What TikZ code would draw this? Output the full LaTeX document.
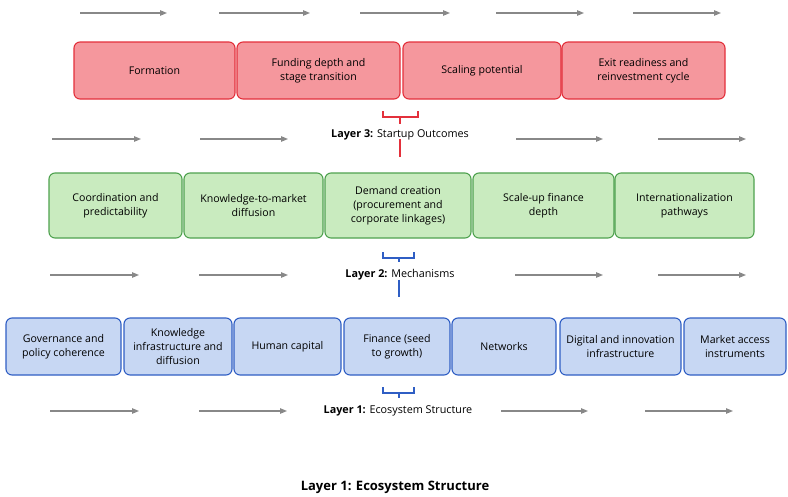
\documentclass[tikz,border=0pt]{standalone}
\usepackage{fontspec}
\setmainfont{Open Sans}
\usetikzlibrary{arrows.meta}

\definecolor{outfill}{HTML}{F5979D}
\definecolor{outline}{HTML}{E3303B}
\definecolor{mechfill}{HTML}{C9EBBF}
\definecolor{mechline}{HTML}{4FA24F}
\definecolor{ecofill}{HTML}{C7D7F3}
\definecolor{ecoline}{HTML}{2F5EC4}
\definecolor{flowgray}{HTML}{888888}

\begin{document}
\begin{tikzpicture}[x=1pt, y=-1pt,
  box/.style={draw, rounded corners=6pt, line width=1.1pt, align=center,
    inner sep=2pt, font=\fontsize{10.6}{14}\selectfont},
  outcome/.style={box, fill=outfill, draw=outline, minimum height=57pt},
  mech/.style={box, fill=mechfill, draw=mechline, minimum height=65pt},
  eco/.style={box, fill=ecofill, draw=ecoline, minimum height=57pt},
  layer/.style={font=\fontsize{10.8}{13}\selectfont, inner sep=1pt},
  flow/.style={-{Triangle[length=7pt, width=5.5pt]}, draw=flowgray, fill=flowgray, line width=1.1pt},
  brace/.style={line width=1.6pt}
]
\useasboundingbox (0,0) rectangle (788,496);

% background flow arrows
\foreach \a/\b in {80/167, 219/310, 360/450, 496/584, 633/721}
  \draw[flow] (\a,13) -- (\b,13);
\foreach \a/\b in {52/141, 200/288, 516/603, 658/746}
  \draw[flow] (\a,139) -- (\b,139);
\foreach \a/\b in {50/139, 199/288, 515/603, 658/746}
  \draw[flow] (\a,275) -- (\b,275);
\foreach \a/\b in {50/139, 199/287, 501/588, 645/733}
  \draw[flow] (\a,411) -- (\b,411);

% layer 3
\node[outcome, minimum width=161pt] (formation) at (154.5,70.5) {Formation};
\node[outcome, minimum width=163pt] (funding) at (318.5,70.5) {Funding depth and\\stage transition};
\node[outcome, minimum width=158pt] (scaling) at (482,70.5) {Scaling potential};
\node[outcome, minimum width=163pt] (exit) at (643.5,70.5) {Exit readiness and\\reinvestment cycle};

\node[layer] (l3) at (400,135) {\textbf{Layer 3:} Startup Outcomes};
\draw[brace, outline] (383,111) -- (383,117) -- (418,117) -- (418,111);
\draw[brace, outline] (400,117) -- (400,124);
\coordinate (l3end) at (400,157);
\draw[brace, outline] (l3.south) ++(0,-2) -- (l3end);

% layer 2
\node[mech, minimum width=133pt] (coord) at (115.5,205.5) {Coordination and\\predictability};
\node[mech, minimum width=139pt] (know) at (253.5,205.5) {Knowledge-to-market\\diffusion};
\node[mech, minimum width=146pt] (demand) at (398,205.5) {Demand creation\\(procurement and\\corporate linkages)};
\node[mech, minimum width=141pt] (scaleup) at (543.5,205.5) {Scale-up finance\\depth};
\node[mech, minimum width=139pt] (intl) at (684.5,205.5) {Internationalization\\pathways};

\node[layer] (l2) at (400,275) {\textbf{Layer 2:} Mechanisms};
\draw[brace, ecoline] (383,252) -- (383,258) -- (414,258) -- (414,252);
\draw[brace, ecoline] (399,258) -- (399,262);
\coordinate (l2end) at (399,297);
\draw[brace, ecoline] (l2.south) ++(-1,-2) -- (l2end);

% layer 1
\node[eco, minimum width=115pt] (gov) at (63.5,346.5) {Governance and\\policy coherence};
\node[eco, minimum width=108pt] (kinfra) at (178,346.5) {Knowledge\\infrastructure and\\diffusion};
\node[eco, minimum width=107pt] (human) at (287.5,346.5) {Human capital};
\node[eco, minimum width=106pt] (finance) at (397,346.5) {Finance (seed\\to growth)};
\node[eco, minimum width=104pt] (networks) at (504,346.5) {Networks};
\node[eco, minimum width=121pt] (digital) at (620.5,346.5) {Digital and innovation\\infrastructure};
\node[eco, minimum width=102pt] (market) at (735,346.5) {Market access\\instruments};

\node[layer] (l1) at (398,411) {\textbf{Layer 1:} Ecosystem Structure};
\draw[brace, ecoline] (383,387) -- (383,393) -- (414,393) -- (414,387);
\draw[brace, ecoline] (399,393) -- (399,398);

% caption
\node[font=\fontsize{13}{15}\selectfont\bfseries] (title) at (395,487) {Layer 1: Ecosystem Structure};
\end{tikzpicture}
\end{document}
